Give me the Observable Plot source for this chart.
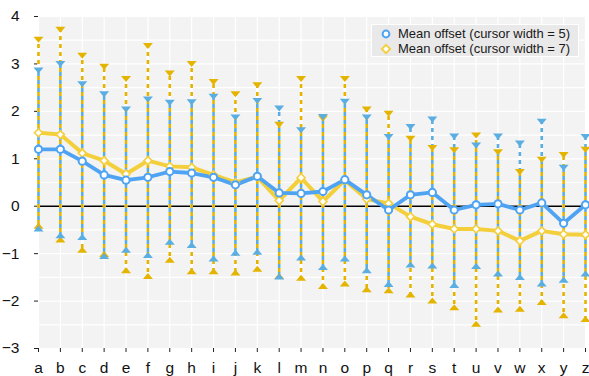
<!DOCTYPE html>
<html>
<head>
<meta charset="utf-8">
<script src="https://cdn.jsdelivr.net/npm/d3@7"></script>
<script src="https://cdn.jsdelivr.net/npm/@observablehq/plot@0.6"></script>
<style>
  html, body { margin: 0; padding: 0; background: white; }
  #chart { position: relative; width: 589px; height: 376px; font-family: "Liberation Sans", Arial, Helvetica, sans-serif; }
  #legend {
    position: absolute; left: 371px; top: 24px; width: 206px; height: 31px;
    background: #e9e9e9; border: 1px solid white; font-size: 13px; color: #1a1a1a;
    padding: 0; box-sizing: content-box;
  }
  #legend .row { display: flex; align-items: center; height: 15px; line-height: 15px; }
  #legend .row:first-child { margin-top: 1px; }
  #legend svg { margin-left: 8px; margin-right: 6px; }
</style>
</head>
<body>
<div id="chart"></div>
<script>
// Categories along the x axis
const cats = "abcdefghijklmnopqrstuvwxyz".split("");

// Mean offset, cursor width = 5 (blue): mean, upper and lower bar ends
const blueMean = [1.20, 1.20, 0.95, 0.66, 0.55, 0.61, 0.73, 0.70, 0.61, 0.45, 0.63, 0.28, 0.27, 0.31, 0.56, 0.24, -0.08, 0.24, 0.29, -0.08, 0.03, 0.05, -0.08, 0.07, -0.36, 0.03];
const blueHi   = [2.86, 3.00, 2.57, 2.36, 2.04, 2.25, 2.18, 2.19, 2.31, 1.87, 2.22, 2.06, 1.60, 1.88, 2.20, 1.87, 1.46, 1.67, 1.83, 1.47, 1.28, 1.47, 1.32, 1.78, 0.81, 1.46];
const blueLo   = [-0.47, -0.61, -0.65, -1.05, -0.92, -1.03, -0.75, -0.82, -1.10, -0.98, -0.96, -1.48, -1.08, -1.28, -1.10, -1.35, -1.64, -1.23, -1.25, -1.66, -1.26, -1.42, -1.49, -1.63, -1.55, -1.42];

// Mean offset, cursor width = 7 (yellow): mean, upper and lower bar ends
const yelMean = [1.55, 1.51, 1.12, 0.96, 0.68, 0.96, 0.84, 0.82, 0.66, 0.50, 0.62, 0.12, 0.60, 0.10, 0.55, 0.15, 0.06, -0.22, -0.38, -0.48, -0.48, -0.52, -0.73, -0.52, -0.59, -0.60];
const yelHi   = [3.51, 3.72, 3.17, 2.94, 2.68, 3.38, 2.80, 3.00, 2.62, 2.36, 2.55, 1.72, 2.68, 1.85, 2.68, 2.04, 1.95, 1.42, 1.23, 1.18, 1.49, 1.14, 0.72, 0.98, 1.08, 1.19];
const yelLo   = [-0.41, -0.70, -0.92, -1.01, -1.35, -1.47, -1.13, -1.37, -1.37, -1.40, -1.32, -1.47, -1.51, -1.68, -1.63, -1.75, -1.77, -1.86, -1.99, -2.13, -2.48, -2.18, -2.16, -2.02, -2.30, -2.38];

const yTicks = [-3, -2, -1, 0, 1, 2, 3, 4];

// Categories are placed by index on a linear scale so the first and last sit on the frame edges
const idx = cats.map((_, i) => i);
const rows = cats.map((c, i) => ({
  i, cat: c,
  bm: blueMean[i], bh: blueHi[i], bl: blueLo[i],
  ym: yelMean[i], yh: yelHi[i], yl: yelLo[i]
}));

const blueLine = "#4fa3f3";
const blueBar = "#5aaee2";
const yelLine = "#f4cf3c";
const goldBar = "#e4b400";

// Flat triangles for the bar ends
const triDown = {
  draw(ctx, size) {
    const k = Math.sqrt(size / Math.PI) / 3.5;
    const w = 5 * k, h = 3 * k;
    ctx.moveTo(-w, -h); ctx.lineTo(w, -h); ctx.lineTo(0, h); ctx.closePath();
  }
};
const triUp = {
  draw(ctx, size) {
    const k = Math.sqrt(size / Math.PI) / 3.5;
    const w = 5 * k, h = 3 * k;
    ctx.moveTo(-w, h); ctx.lineTo(w, h); ctx.lineTo(0, -h); ctx.closePath();
  }
};

const chart = Plot.plot({
  width: 589,
  height: 376,
  marginLeft: 38,
  marginRight: 4,
  marginTop: 16,
  marginBottom: 28,
  style: { fontFamily: "'Liberation Sans', Arial, Helvetica, sans-serif", fontSize: "15.5px", color: "#111", background: "white", overflow: "visible" },
  x: { type: "linear", domain: [0, cats.length - 1], label: null },
  y: { domain: [-3, 4], label: null },
  marks: [
    Plot.frame({ fill: "#f3f3f3", stroke: null }),
    Plot.gridY(d3.range(-3, 4.01, 0.5), { stroke: "white", strokeOpacity: 1, strokeWidth: 1.2 }),
    Plot.gridX(idx, { stroke: "white", strokeOpacity: 1, strokeWidth: 1.2 }),
    Plot.axisY(yTicks, { tickSize: 4, tickPadding: 15, fontSize: 15.5, stroke: "#222" }),
    Plot.axisX(idx, { tickSize: 4, tickPadding: 9, fontSize: 15.5, stroke: "#222", tickFormat: (i) => cats[i] }),
    Plot.ruleY([0], { stroke: "black", strokeWidth: 1.5 }),

    // error bars: white underlay, then interleaved dashes
    Plot.ruleX(rows, { x: "i", y1: "yh", y2: "yl", stroke: "white", strokeWidth: 2.6 }),
    Plot.ruleX(rows, { x: "i", y1: "bh", y2: "bl", stroke: "white", strokeWidth: 2.6 }),
    Plot.ruleX(rows, { x: "i", y1: "yh", y2: "yl", stroke: goldBar, strokeWidth: 2.6, strokeDasharray: "4,4", className: "bar-gold" }),
    Plot.ruleX(rows, { x: "i", y1: "bh", y2: "bl", stroke: blueBar, strokeWidth: 2.6, strokeDasharray: "4,4", className: "bar-blue" }),

    // bar end markers
    Plot.dot(rows, { x: "i", y: "yh", symbol: triDown, r: 3.5, fill: goldBar }),
    Plot.dot(rows, { x: "i", y: "yl", symbol: triUp, r: 3.5, fill: goldBar }),
    Plot.dot(rows, { x: "i", y: "bh", symbol: triDown, r: 3.5, fill: blueBar }),
    Plot.dot(rows, { x: "i", y: "bl", symbol: triUp, r: 3.5, fill: blueBar }),

    // means
    Plot.line(rows, { x: "i", y: "ym", stroke: yelLine, strokeWidth: 4 }),
    Plot.line(rows, { x: "i", y: "bm", stroke: blueLine, strokeWidth: 3.8 }),
    Plot.dot(rows, { x: "i", y: "ym", symbol: "diamond2", r: 3.6, fill: "white", stroke: yelLine, strokeWidth: 1.6 }),
    Plot.dot(rows, { x: "i", y: "bm", r: 3.6, fill: "white", stroke: blueLine, strokeWidth: 2 })
  ]
});

// Keep dash phase tied to screen position so overlapping bars alternate colours
d3.select(chart).selectAll(".bar-blue line").attr("stroke-dashoffset", function () {
  return (+this.getAttribute("y1")) % 8;
});
d3.select(chart).selectAll(".bar-gold line").attr("stroke-dashoffset", function () {
  return ((+this.getAttribute("y1")) + 4) % 8;
});

const holder = document.getElementById("chart");
holder.appendChild(chart);

// Legend
const legend = document.createElement("div");
legend.id = "legend";
legend.innerHTML = `
  <div class="row"><svg width="12" height="12"><circle cx="6" cy="6" r="3.4" fill="white" stroke="${blueLine}" stroke-width="2"/></svg>Mean offset (cursor width = 5)</div>
  <div class="row"><svg width="12" height="12"><path d="M6,1.8 L10.2,6 L6,10.2 L1.8,6 Z" fill="white" stroke="${yelLine}" stroke-width="1.8"/></svg>Mean offset (cursor width = 7)</div>
`;
holder.appendChild(legend);
</script>
</body>
</html>
